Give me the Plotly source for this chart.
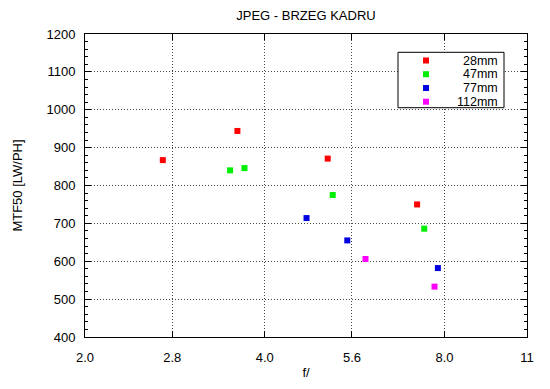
import math
import plotly.graph_objects as go

# ---- data ----
series_names = ["28mm", "47mm", "77mm", "112mm"]
series_colors = ["#ff0000", "#00ee00", "#0000e0", "#ff00ff"]

f_28 = [2.7, 3.6, 5.1, 7.2]
mtf_28 = [867, 944, 871, 750]

f_47 = [3.5, 3.7, 5.2, 7.4]
mtf_47 = [840, 846, 775, 686]

f_77 = [4.7, 5.5, 7.8]
mtf_77 = [714, 655, 582]

f_112 = [5.9, 7.7]
mtf_112 = [606, 533]

x_tick_vals = [2.0, 2.8, 4.0, 5.6, 8.0, 11.0]
x_tick_text = ["2.0", "2.8", "4.0", "5.6", "8.0", "11"]
y_tick_vals = [400, 500, 600, 700, 800, 900, 1000, 1100, 1200]

FONT = "Liberation Sans, Arial, Helvetica, sans-serif"

xs = [f_28, f_47, f_77, f_112]
ys = [mtf_28, mtf_47, mtf_77, mtf_112]

fig = go.Figure()
for name, color, x, y in zip(series_names, series_colors, xs, ys):
    fig.add_trace(go.Scatter(
        x=x, y=y, mode="markers", name=name,
        marker=dict(symbol="square", size=6, color=color, line=dict(width=0)),
        showlegend=False,
    ))

grid_common = dict(
    showgrid=True, gridcolor="#444444", gridwidth=1, griddash="1px,2px",
    showline=True, linecolor="black", linewidth=1, mirror="ticks",
    ticks="inside", ticklen=6, tickcolor="black", tickwidth=1,
    zeroline=False,
    tickfont=dict(family=FONT, size=13, color="black"),
)

fig.update_xaxes(
    type="log",
    range=[math.log10(2.0), math.log10(11.0)],
    tickvals=x_tick_vals, ticktext=x_tick_text,
    title=dict(text="f/", font=dict(family=FONT, size=13, color="black"), standoff=4),
    ticklabelstandoff=8,
    **grid_common,
)
fig.update_yaxes(
    range=[400, 1200],
    tickvals=y_tick_vals,
    minor=dict(dtick=20, ticks="inside", ticklen=3, tickcolor="black", showgrid=False),
    title=dict(text="MTF50 [LW/PH]", font=dict(family=FONT, size=13, color="black"), standoff=20),
    ticklabelstandoff=6,
    **grid_common,
)

# page offset (browser body margin) compensation
OFF = 8
# target plot-area pixel box in the final picture
L, R, T, B = 85, 527, 34, 337
W, H = R - L, B - T

def px(xp):
    return (xp - L) / W

def py(yp):
    return (B - yp) / H

shapes = [dict(type="rect", xref="paper", yref="paper",
               x0=px(398), x1=px(504), y0=py(107.7), y1=py(52.3),
               line=dict(color="black", width=1), fillcolor="white", layer="above")]
annotations = []
row_y = [60.5, 74.2, 88.0, 101.7]
for name, color, ry in zip(series_names, series_colors, row_y):
    shapes.append(dict(type="rect", xref="paper", yref="paper",
                       xsizemode="pixel", ysizemode="pixel",
                       xanchor=px(426), yanchor=py(ry),
                       x0=-3, x1=3, y0=-3, y1=3,
                       line=dict(width=0), fillcolor=color, layer="above"))
    annotations.append(dict(xref="paper", yref="paper", x=px(499.5), y=py(ry),
                            xanchor="right", yanchor="middle", showarrow=False,
                            height=12, valign="middle",
                            text=name, font=dict(family=FONT, size=12.5, color="black")))

FIG_W, FIG_H = 550, 389
fig.update_layout(
    width=FIG_W, height=FIG_H,
    margin=dict(l=L - OFF, r=FIG_W - (R - OFF), t=T - OFF, b=FIG_H - (B - OFF), autoexpand=False),
    paper_bgcolor="white", plot_bgcolor="white",
    title=dict(text="JPEG - BRZEG KADRU", x=px(306), xref="paper",
               y=1 - (15.5 - OFF) / FIG_H, yanchor="middle",
               font=dict(family=FONT, size=13, color="black")),
    font=dict(family=FONT, size=13, color="black"),
    shapes=shapes, annotations=annotations,
    showlegend=False,
)

fig.write_html("out.html")
